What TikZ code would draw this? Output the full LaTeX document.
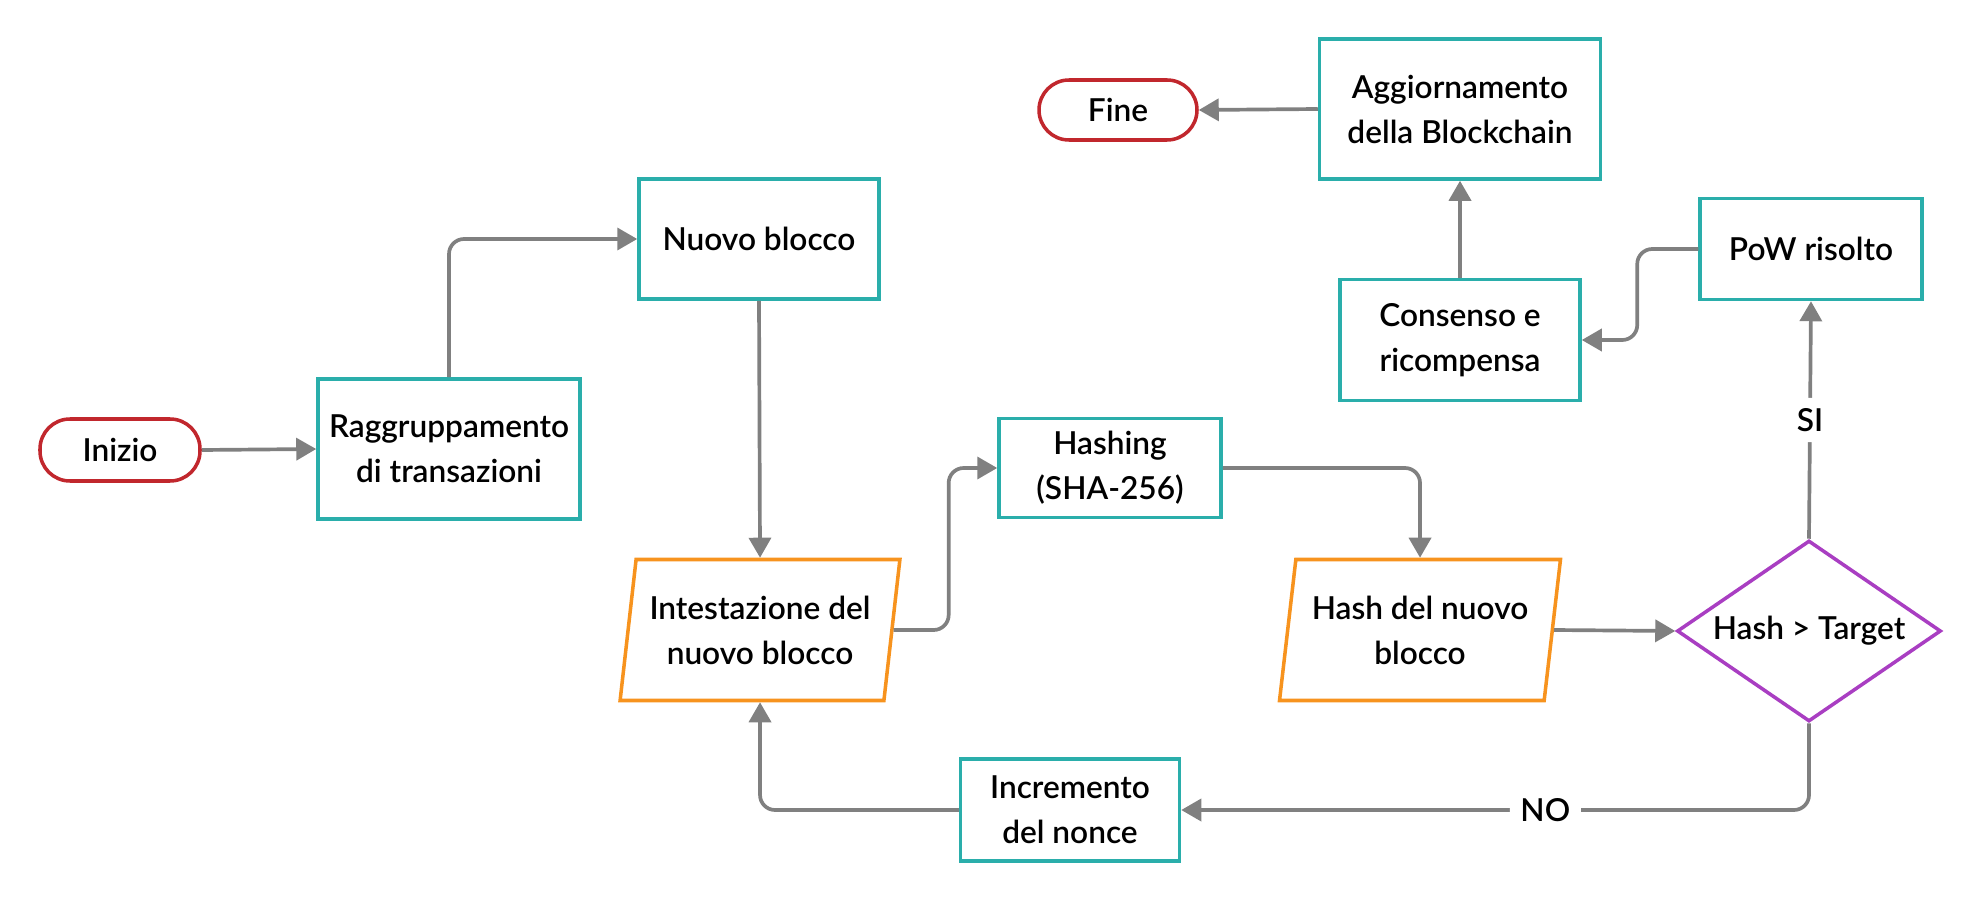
\documentclass[tikz,border=0pt]{standalone}
\usepackage{fontspec}
\setmainfont{Lato}[UprightFont={* Semibold}]
\usetikzlibrary{shapes.geometric,arrows.meta}
\definecolor{termc}{HTML}{C1272D}
\definecolor{procc}{HTML}{2AAEAB}
\definecolor{datac}{HTML}{F7931E}
\definecolor{testc}{HTML}{A93EC2}
\definecolor{linkc}{HTML}{808080}
\tikzset{
  base/.style={align=center, font=\fontsize{9}{12.8}\selectfont, line width=1pt, fill=white, inner sep=2pt},
  terminal/.style={base, draw=termc, rounded corners=0.3cm},
  process/.style={base, draw=procc},
  data/.style={base, draw=datac, trapezium, trapezium left angle=79, trapezium right angle=101, trapezium stretches=true, inner sep=1pt},
  decision/.style={base, draw=testc, diamond, aspect=1.46, inner sep=0pt},
  flow/.style={draw=linkc, line width=1.05pt, rounded corners=0.15cm, -{Triangle[length=0.2cm,width=0.22cm]}},
  answer/.style={fill=white, font=\fontsize{9}{12.8}\selectfont, inner sep=3pt},
}
\begin{document}
\begin{tikzpicture}
\useasboundingbox (0,0) rectangle (19.8,9);
\node[terminal, minimum width=1.6cm, minimum height=0.62cm] (inizio) at (1.20,4.50) {Inizio};
\node[process, minimum width=2.62cm, minimum height=1.40cm] (raggr) at (4.49,4.51) {Raggruppamento\\di transazioni};
\node[process, minimum width=2.40cm, minimum height=1.20cm] (nuovo) at (7.59,6.61) {Nuovo blocco};
\node[data, minimum width=2.81cm, minimum height=1.41cm] (intest) at (7.60,2.70) {Intestazione del\\nuovo blocco};
\node[process, minimum width=2.22cm, minimum height=0.99cm] (hashing) at (11.10,4.32) {Hashing\\(SHA-256)};
\node[data, minimum width=2.83cm, minimum height=1.41cm] (hashnew) at (14.20,2.70) {Hash del nuovo\\blocco};
\node[decision, minimum width=2.64cm, minimum height=1.81cm] (test) at (18.09,2.69) {Hash > Target};
\node[process, minimum width=2.19cm, minimum height=1.02cm] (increm) at (10.70,0.90) {Incremento\\del nonce};
\node[process, minimum width=2.22cm, minimum height=1.01cm] (pow) at (18.11,6.51) {PoW risolto};
\node[process, minimum width=2.40cm, minimum height=1.21cm] (consenso) at (14.60,5.60) {Consenso e\\ricompensa};
\node[process, minimum width=2.81cm, minimum height=1.40cm] (aggiorn) at (14.60,7.91) {Aggiornamento\\della Blockchain};
\node[terminal, minimum width=1.58cm, minimum height=0.60cm] (fine) at (11.18,7.90) {Fine};

\draw[flow] (inizio.east) -- (raggr.west);
\draw[flow] (raggr.north) |- (nuovo.west);
\draw[flow] (nuovo.south) -- (intest.north);
\draw[flow] (intest.east) -- ++(0.55,0) |- (hashing.west);
\draw[flow] (hashing.east) -| (hashnew.north);
\draw[flow] (hashnew.east) -- (test.west);
\draw[flow] (test.north) -- node[answer] {SI} (pow.south);
\draw[flow] (test.south) |- node[answer, pos=0.71] {NO} (increm.east);
\draw[flow] (increm.west) -| (intest.south);
\draw[flow] (pow.west) -- ++(-0.61,0) |- (consenso.east);
\draw[flow] (consenso.north) -- (aggiorn.south);
\draw[flow] (aggiorn.west) -- (fine.east);
\end{tikzpicture}
\end{document}
